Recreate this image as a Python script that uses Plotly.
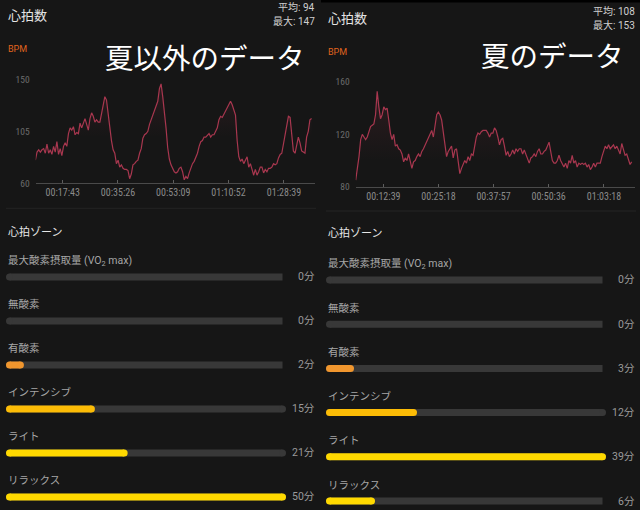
import numpy as np
import plotly.graph_objects as go

W, H = 640, 510

# ---------------- data ----------------
left_hr = [80, 87, 89, 87, 89, 90, 86, 94, 86, 89, 85, 92, 87, 96, 85, 90, 84, 92, 95, 92,
           103, 108, 106, 109, 102, 104, 103, 112, 108, 112, 116, 111, 106, 116, 121, 118, 113, 115, 113, 113,
           121, 129, 135, 132, 121, 106, 97, 89, 86, 77, 80, 74, 76, 73, 72, 72, 71, 64, 68, 76,
           77, 79, 80, 86, 90, 99, 102, 103, 105, 111, 115, 119, 123, 126, 131, 142, 146, 135, 123, 108,
           91, 81, 76, 73, 70, 69, 70, 73, 74, 70, 63, 66, 64, 69, 74, 77, 79, 83, 86, 92,
           96, 97, 100, 100, 102, 103, 100, 102, 102, 105, 108, 115, 118, 117, 120, 122, 126, 128, 131, 128,
           123, 119, 97, 83, 79, 81, 77, 80, 83, 74, 77, 72, 67, 72, 67, 70, 74, 74, 69, 72,
           70, 73, 73, 74, 77, 76, 77, 82, 85, 86, 95, 103, 112, 118, 117, 101, 88, 86, 95, 100,
           95, 88, 87, 86, 100, 105, 115, 116]
left_t_start, left_t_end = 8.96, 97.5          # minutes
right_hr = [85, 93, 103, 116, 120, 118, 116, 118, 122, 126, 127, 128, 135, 153, 141, 132, 135, 141, 139, 140,
            131, 121, 116, 120, 111, 112, 109, 108, 105, 99, 102, 100, 105, 100, 94, 99, 100, 103, 105, 103,
            107, 109, 112, 114, 117, 120, 123, 118, 128, 135, 137, 135, 131, 121, 111, 103, 107, 109, 111, 102,
            108, 109, 99, 90, 94, 97, 100, 98, 103, 100, 105, 104, 111, 118, 121, 120, 122, 123, 123, 123,
            121, 118, 121, 121, 125, 123, 118, 112, 116, 117, 111, 104, 107, 103, 105, 108, 105, 109, 107, 109,
            109, 105, 108, 105, 102, 98, 102, 103, 105, 103, 107, 109, 105, 105, 107, 108, 111, 114, 107, 100,
            98, 98, 100, 104, 100, 97, 95, 98, 94, 100, 98, 104, 98, 100, 95, 98, 97, 98, 97, 98,
            95, 97, 93, 95, 98, 95, 98, 98, 98, 103, 108, 111, 109, 112, 109, 111, 112, 109, 111, 108,
            105, 113, 109, 104, 105, 100, 97, 99]
right_t_start, right_t_end = 6.3, 69.67        # minutes

left_xticks = [17.717, 35.433, 53.15, 70.867, 88.65]
left_xtick_text = ["00:17:43", "00:35:26", "00:53:09", "01:10:52", "01:28:39"]
right_xticks = [12.65, 25.3, 37.95, 50.6, 63.3]
right_xtick_text = ["00:12:39", "00:25:18", "00:37:57", "00:50:36", "01:03:18"]
left_yticks = [60, 105, 150]
right_yticks = [80, 120, 160]

zone_names = ["最大酸素摂取量 (VO<sub>2</sub> max)", "無酸素", "有酸素", "インテンシブ", "ライト", "リラックス"]
left_zone_min = [0, 0, 2, 15, 21, 50]
right_zone_min = [0, 0, 3, 12, 39, 6]

left_avg, left_max = 94, 147
right_avg, right_max = 108, 153
left_caption = "夏以外のデータ"
right_caption = "夏のデータ"

# ---------------- style ----------------
BG = "#161616"
LINE = "#a8374f"
TRACK = "#383838"
ZONE_COLORS = ["#f0962e", "#f0962e", "#f0962e", "#fcbc06", "#ffd900", "#ffd900"]
CJK = "Roboto, Noto Sans CJK JP, sans-serif"
NARROW = "Liberation Sans Narrow, Roboto Condensed, Roboto, sans-serif"


def fx(px):
    return px / W


def fy(py):
    return 1 - py / H


fig = go.Figure()
ann = []
shapes = []

panels = [
    dict(ox=0, dy=0, hr=left_hr, t0=left_t_start, t1=left_t_end, xt=left_xticks, xtt=left_xtick_text,
         yt=left_yticks, yr=[60, 158.05], xr=[9.06, 98.6], ybot=183.3, ax="", zax="3",
         zones=left_zone_min, avg=left_avg, mx=left_max, cap=left_caption, capx=204.5, capy=56.5,
         rowtop=-0.386, rowbot=5.182, zdom=(260, 505), sep=208.3, head=232),
    dict(ox=320, dy=3, hr=right_hr, t0=right_t_start, t1=right_t_end, xt=right_xticks, xtt=right_xtick_text,
         yt=right_yticks, yr=[80, 169.2], xr=[6.3, 70.43], ybot=186.7, ax="2", zax="4",
         zones=right_zone_min, avg=right_avg, mx=right_max, cap=right_caption, capx=232, capy=54.5,
         rowtop=-0.407, rowbot=5.158, zdom=(262, 508), sep=211, head=233),
]

layout_axes = {}
for p in panels:
    ox, dy = p["ox"], p["dy"]
    t = np.linspace(p["t0"], p["t1"], len(p["hr"]))
    xa = "x" + p["ax"]
    ya = "y" + p["ax"]
    fig.add_trace(go.Scatter(
        x=t, y=p["hr"], mode="lines", xaxis=xa, yaxis=ya,
        line=dict(color=LINE, width=1.2),
        fill="tozeroy",
        fillgradient=dict(type="vertical", start=100, stop=p["mx"],
                          colorscale=[[0, "rgba(168,55,79,0)"], [1, "rgba(168,55,79,0.16)"]]),
        hoverinfo="skip", showlegend=False))
    xkey = "xaxis" + p["ax"]
    ykey = "yaxis" + p["ax"]
    layout_axes[xkey] = dict(
        domain=[fx(ox + 35.7), fx(ox + 315)], range=p["xr"], anchor=ya,
        showgrid=False, zeroline=False, showline=True, linecolor="#4a4a4a", linewidth=1,
        ticks="inside", ticklen=3, tickcolor="#5e5e5e", tickwidth=1,
        tickvals=p["xt"], ticktext=p["xtt"], tickfont=dict(family=NARROW, size=10, color="#8a8a8a"),
        fixedrange=True, automargin=False)
    layout_axes[ykey] = dict(
        domain=[fy(p["ybot"]), fy(70)], range=p["yr"], anchor=xa,
        showgrid=False, zeroline=False, showline=False, ticks="",
        tickvals=p["yt"], tickfont=dict(family=NARROW, size=9.5, color="#6c6c6c"),
        ticklabelstandoff=5, fixedrange=True, automargin=False)

    # ---- zone bars ----
    zx = "x" + p["zax"]
    zy = "y" + p["zax"]
    vmax = max(p["zones"])
    scale_px = 273.0  # cap-centre span in pixels
    for r, v in enumerate(p["zones"]):
        extra = 6 if v < 10 else 0
        track_end = vmax * (1 + extra / scale_px)
        fig.add_trace(go.Scatter(
            x=[0, track_end], y=[r, r], xaxis=zx, yaxis=zy, mode="lines+markers",
            line=dict(color=TRACK, width=7), marker=dict(color=TRACK, size=7, line=dict(width=0)),
            hoverinfo="skip", showlegend=False, cliponaxis=False))
        if v > 0:
            fig.add_trace(go.Scatter(
                x=[0, v], y=[r, r], xaxis=zx, yaxis=zy, mode="lines+markers",
                line=dict(color=ZONE_COLORS[r], width=7),
                marker=dict(color=ZONE_COLORS[r], size=7, line=dict(width=0)),
                hoverinfo="skip", showlegend=False, cliponaxis=False))
        ann.append(dict(xref="paper", yref=zy, x=fx(ox + 6), y=r, yshift=16, xanchor="left", yanchor="middle",
                        text=zone_names[r], showarrow=False,
                        font=dict(family=CJK, size=10.5, color="#a6a6a6")))
        ann.append(dict(xref="paper", yref=zy, x=fx(ox + 316.5), y=r, xanchor="right", yanchor="middle",
                        text=f"{v}分", showarrow=False,
                        font=dict(family=CJK, size=10.5, color="#9a9a9a")))
    layout_axes["xaxis" + p["zax"]] = dict(domain=[fx(ox + 9.5), fx(ox + 282.5)], range=[0, vmax],
                                           visible=False, fixedrange=True, anchor=zy, automargin=False)
    layout_axes["yaxis" + p["zax"]] = dict(domain=[fy(p["zdom"][1]), fy(p["zdom"][0])],
                                           range=[p["rowbot"], p["rowtop"]],
                                           visible=False, fixedrange=True, anchor=zx, automargin=False)

    # ---- texts ----
    ann.append(dict(xref="paper", yref="paper", x=fx(ox + 6), y=fy(15.5 + dy), xanchor="left", yanchor="middle",
                    text="心拍数", showarrow=False, font=dict(family=CJK, size=13, color="#e4e4e4")))
    ann.append(dict(xref="paper", yref="paper", x=fx(ox + 316.5), y=fy(7.5 + dy), xanchor="right",
                    yanchor="middle", text=f"平均: {p['avg']}", showarrow=False,
                    font=dict(family=CJK, size=10, color="#cfcfcf")))
    ann.append(dict(xref="paper", yref="paper", x=fx(ox + 316.5), y=fy(21.5 + dy), xanchor="right",
                    yanchor="middle", text=f"最大: {p['mx']}", showarrow=False,
                    font=dict(family=CJK, size=10, color="#cfcfcf")))
    ann.append(dict(xref="paper", yref="paper", x=fx(ox + 6), y=fy(49.5 + dy), xanchor="left", yanchor="middle",
                    text="BPM", showarrow=False, font=dict(family=CJK, size=9, color="#e0641e")))
    ann.append(dict(xref="paper", yref="paper", x=fx(ox + p["capx"]), y=fy(p["capy"]), xanchor="center",
                    yanchor="middle", text=p["cap"], showarrow=False,
                    font=dict(family="Noto Sans CJK JP", size=28.5, color="#ffffff")))
    ann.append(dict(xref="paper", yref="paper", x=fx(ox + 6), y=fy(p["head"]), xanchor="left", yanchor="middle",
                    text="心拍ゾーン", showarrow=False, font=dict(family=CJK, size=11, color="#e6e6e6")))
    shapes.append(dict(type="line", xref="paper", yref="paper", x0=fx(ox + 6), x1=fx(ox + 316),
                       y0=fy(p["sep"]), y1=fy(p["sep"]), line=dict(color="#242424", width=1)))

# black strip at top of the right screenshot
shapes.append(dict(type="rect", xref="paper", yref="paper", x0=fx(321), x1=1, y0=fy(2.5), y1=1,
                   fillcolor="#000000", line=dict(width=0), layer="above"))

fig.update_layout(
    width=W, height=H, autosize=False, margin=dict(l=0, r=0, t=0, b=0, pad=0, autoexpand=False),
    paper_bgcolor=BG, plot_bgcolor=BG, showlegend=False,
    annotations=ann, shapes=shapes, **layout_axes)

page_fix = (
    "var d=document.documentElement, b=document.body;"
    "d.style.margin='0';d.style.padding='0';d.style.height='510px';d.style.overflow='hidden';"
    "b.style.margin='0';b.style.padding='0';b.style.height='510px';b.style.overflow='hidden';"
    "b.style.background='#161616';"
    "var g=document.getElementsByClassName('plotly-graph-div');"
    "for(var i=0;i<g.length;i++){g[i].style.position='fixed';g[i].style.top='0px';g[i].style.left='0px';}"
)
fig.write_html("out.html", config={"displayModeBar": False, "responsive": False}, post_script=page_fix)
